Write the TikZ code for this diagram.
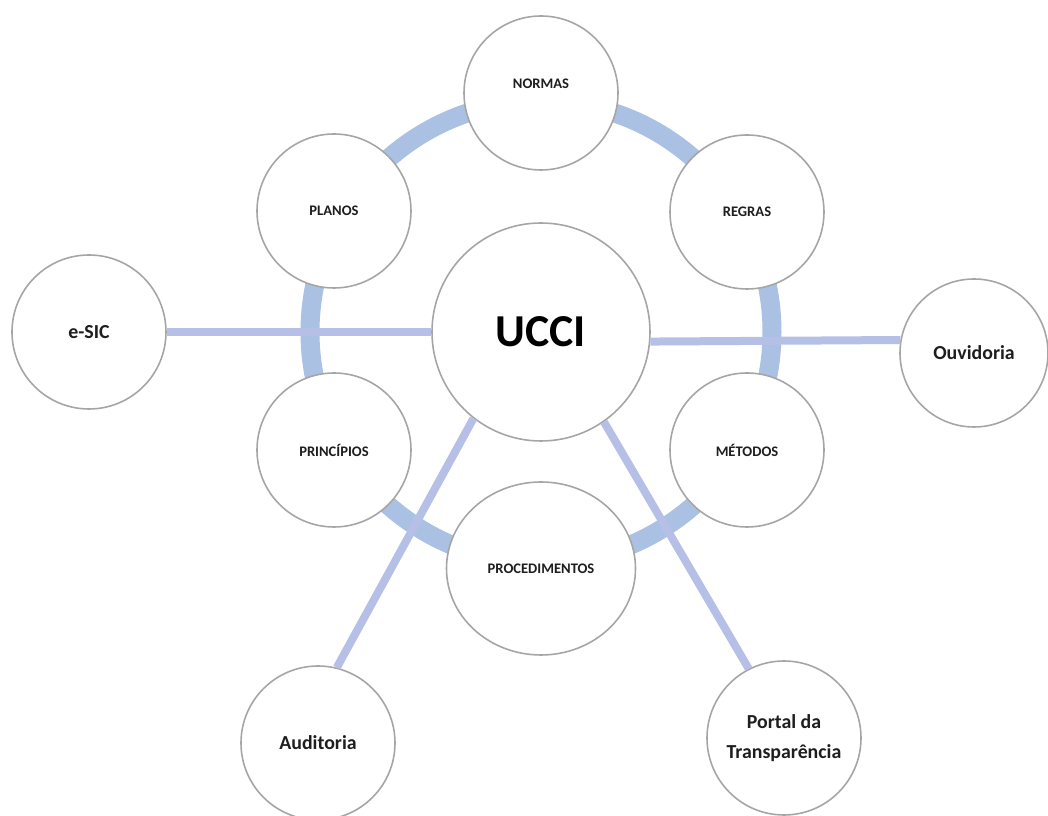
\documentclass[tikz,border=0pt]{standalone}
\usepackage{fontspec}
\setmainfont{Carlito}
\usetikzlibrary{positioning, shapes.geometric, backgrounds}
\definecolor{anelazul}{RGB}{170,193,228}
\definecolor{ligazul}{RGB}{182,192,230}
\definecolor{bordacinza}{RGB}{165,165,165}
\definecolor{textocinza}{RGB}{30,30,30}
\tikzstyle{ideia} = [circle, minimum size=3.08cm, inner sep=0pt, text centered, draw=bordacinza, line width=0.9pt, fill=white, text=textocinza, font=\fontsize{8.3}{10}\selectfont\bfseries]
\tikzstyle{nucleo} = [ideia, minimum size=4.36cm, text=black, font=\fontsize{26}{30}\selectfont\bfseries]
\tikzstyle{canal} = [ideia, align=center, font=\fontsize{11.3}{17}\selectfont\bfseries]
\tikzstyle{anel} = [line width=0.38cm, draw=anelazul]
\tikzstyle{ligacao} = [line width=0.16cm, draw=ligazul]

\begin{document}
\begin{tikzpicture}[on grid]
			\useasboundingbox (-10.82,-9.68) rectangle (10.14,6.64);
			%nos do diagrama
			\node (ucci) [nucleo] {UCCI};
			\node (normas) [ideia, above=4.78cm of ucci] {\raisebox{10pt}{NORMAS}};
			\node (planos) [ideia, above left=2.42cm and 4.14cm of ucci] {PLANOS};
			\node (regras) [ideia, above right=2.40cm and 4.12cm of ucci] {REGRAS};
			\node (principios) [ideia, below left=2.36cm and 4.14cm of ucci] {PRINCÍPIOS};
			\node (metodos) [ideia, below right=2.36cm and 4.12cm of ucci] {MÉTODOS};
			\node (procedimentos) [ideia, ellipse, minimum width=3.78cm, minimum height=3.46cm, below=4.73cm of ucci] {PROCEDIMENTOS};
			\node (esic) [canal, left=9.04cm of ucci] {e-SIC};
			\node (ouvidoria) [canal, minimum size=2.96cm, below right=0.42cm and 8.66cm of ucci] {Ouvidoria};
			\node (auditoria) [canal, below left=8.22cm and 4.46cm of ucci] {Auditoria};
			\node (portal) [canal, below right=8.12cm and 4.86cm of ucci] {Portal da\\Transparência};
			%anel e ligacoes
			\begin{scope}[on background layer]
				\draw [anel] (ucci.center) circle (4.62cm);
			\end{scope}
			\draw [ligacao] (esic.east) -- (ucci.west);
			\draw [ligacao] (ucci.355) -- (ouvidoria.170);
			\draw [ligacao] (ucci.232) -- (auditoria.76);
			\draw [ligacao] (ucci.305) -- (portal.117);
		\end{tikzpicture}
\end{document}
